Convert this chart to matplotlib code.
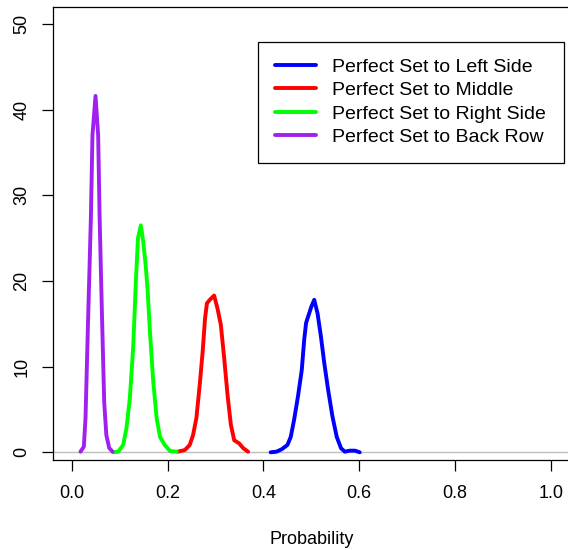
import numpy as np
import matplotlib
matplotlib.use("Agg")
import matplotlib.pyplot as plt

plt.rcParams['font.family'] = ['Liberation Sans', 'DejaVu Sans']

# density estimates of where the set goes (x = probability, y = density)
left_x = [0.415, 0.427, 0.438, 0.450, 0.457, 0.464, 0.472, 0.480, 0.485, 0.489, 0.493,
          0.500, 0.506, 0.513, 0.520, 0.527, 0.535, 0.544, 0.553, 0.562, 0.570, 0.580,
          0.591, 0.601]
left_y = [0.0, 0.07, 0.35, 0.85, 1.8, 3.8, 6.5, 9.6, 13.1, 15.1, 15.8,
          17.0, 17.8, 16.2, 13.5, 10.4, 7.3, 4.2, 1.8, 0.47, 0.07, 0.19,
          0.19, 0.0]

middle_x = [0.221, 0.236, 0.246, 0.253, 0.260, 0.267, 0.273, 0.278, 0.282, 0.288, 0.297,
            0.304, 0.311, 0.318, 0.325, 0.332, 0.339, 0.349, 0.358, 0.368]
middle_y = [0.07, 0.27, 0.85, 2.0, 4.0, 7.9, 11.7, 15.6, 17.4, 17.8, 18.3,
            16.8, 14.9, 11.0, 6.7, 3.2, 1.4, 1.05, 0.47, 0.07]

right_x = [0.086, 0.097, 0.107, 0.114, 0.121, 0.128, 0.1336, 0.138, 0.144, 0.149, 0.154,
           0.158, 0.163, 0.170, 0.177, 0.184, 0.194, 0.205, 0.219]
right_y = [0.0, 0.07, 0.85, 2.8, 6.3, 12.2, 19.9, 25.0, 26.5, 24.6, 21.9,
           19.1, 14.1, 8.2, 4.0, 1.8, 0.85, 0.15, 0.07]

back_x = [0.018, 0.025, 0.0285, 0.034, 0.0397, 0.043, 0.0494, 0.0549, 0.058, 0.063,
          0.0675, 0.072, 0.078, 0.085]
back_y = [0.07, 0.65, 4.0, 15.7, 27.3, 37.0, 41.6, 37.0, 27.3, 15.7,
          5.9, 2.0, 0.5, 0.07]

labels = ["Perfect Set to Left Side", "Perfect Set to Middle",
          "Perfect Set to Right Side", "Perfect Set to Back Row"]
colors = ["#0000FF", "#FF0000", "#00FF00", "#A020F0"]

W, H = 568, 550
fig = plt.figure(figsize=(W / 100, H / 100), dpi=100)
ax = fig.add_axes([52.7 / W, 90 / H, 517.3 / W, 452.7 / H])

ax.axhline(0, color="#BEBEBE", lw=1.0, zorder=1)
for xs, ys, lab, c in zip([left_x, middle_x, right_x, back_x],
                          [left_y, middle_y, right_y, back_y], labels, colors):
    ax.plot(xs, ys, color=c, lw=2.8, label=lab, solid_joinstyle="round",
            solid_capstyle="round", zorder=2)

ax.set_xlim(-0.04, 1.04)
ax.set_ylim(-0.9, 51.95)
ax.set_xticks(np.arange(0, 1.01, 0.2))
ax.set_xticklabels(["0.0", "0.2", "0.4", "0.6", "0.8", "1.0"])
ax.set_yticks(np.arange(0, 51, 10))
for s in ax.spines.values():
    s.set_linewidth(0.9)
ax.tick_params(direction="out", length=8, width=0.9, labelsize=13)
ax.tick_params(axis="x", pad=10)
ax.tick_params(axis="y", pad=8)
plt.setp(ax.get_yticklabels(), rotation=90, va="center")
ax.set_xlabel("Probability", fontsize=13, labelpad=21)

# legend box stretched to a fixed width, entries stay left aligned
leg = ax.legend(loc="upper left",
                bbox_to_anchor=(258.3 / W, 1 - 41.7 / H, 306 / W, 0.0),
                bbox_transform=fig.transFigure, mode="expand", borderaxespad=0,
                fontsize=14, fancybox=False, framealpha=1, edgecolor="black",
                handlelength=2.1, handletextpad=0.85, labelspacing=0.3,
                borderpad=0.85)
leg.get_frame().set_linewidth(0.9)

fig.savefig("out.png", dpi=100)
